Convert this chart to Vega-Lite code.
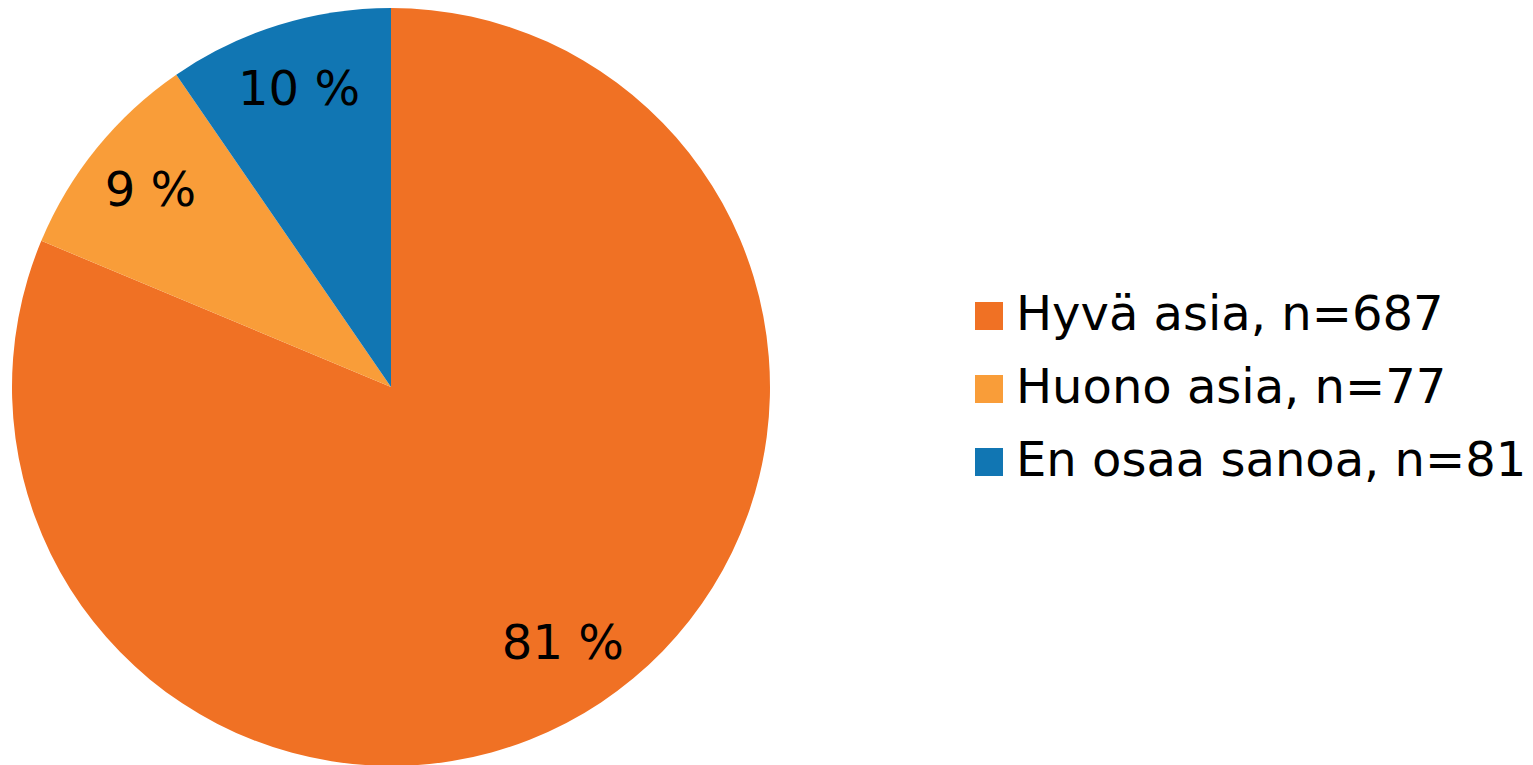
{
  "$schema": "https://vega.github.io/schema/vega-lite/v6.json",
  "width": 782,
  "height": 774,
  "autosize": {"type": "pad"},
  "padding": 0,
  "background": "white",
  "config": {"view": {"stroke": null}},
  "data": {
    "values": [
      {"cat": "Hyvä asia, n=687", "n": 687, "label": "81 %", "order": 1},
      {"cat": "Huono asia, n=77", "n": 77, "label": "9 %", "order": 2},
      {"cat": "En osaa sanoa, n=81", "n": 81, "label": "10 %", "order": 3}
    ]
  },
  "encoding": {
    "theta": {"field": "n", "type": "quantitative", "stack": true},
    "order": {"field": "order", "type": "quantitative"}
  },
  "layer": [
    {
      "mark": {"type": "arc", "outerRadius": 379},
      "encoding": {
        "color": {
          "field": "cat",
          "type": "nominal",
          "sort": ["Hyvä asia, n=687", "Huono asia, n=77", "En osaa sanoa, n=81"],
          "scale": {
            "domain": ["Hyvä asia, n=687", "Huono asia, n=77", "En osaa sanoa, n=81"],
            "range": ["#F07124", "#F99D39", "#1176B3"]
          },
          "legend": {
            "orient": "none",
            "legendX": 965,
            "legendY": 292,
            "title": null,
            "symbolType": "square",
            "symbolSize": 784,
            "symbolStrokeWidth": 0,
            "labelFontSize": 48,
            "labelFont": "DejaVu Sans",
            "labelColor": "black",
            "labelOffset": 3,
            "rowPadding": 25,
            "padding": 0,
            "labelLimit": 600
          }
        }
      }
    },
    {
      "mark": {"type": "text", "radius": 310, "fontSize": 48, "font": "DejaVu Sans", "color": "black", "align": "center", "baseline": "middle"},
      "encoding": {
        "text": {"field": "label"},
        "detail": {"field": "cat"}
      }
    }
  ]
}
